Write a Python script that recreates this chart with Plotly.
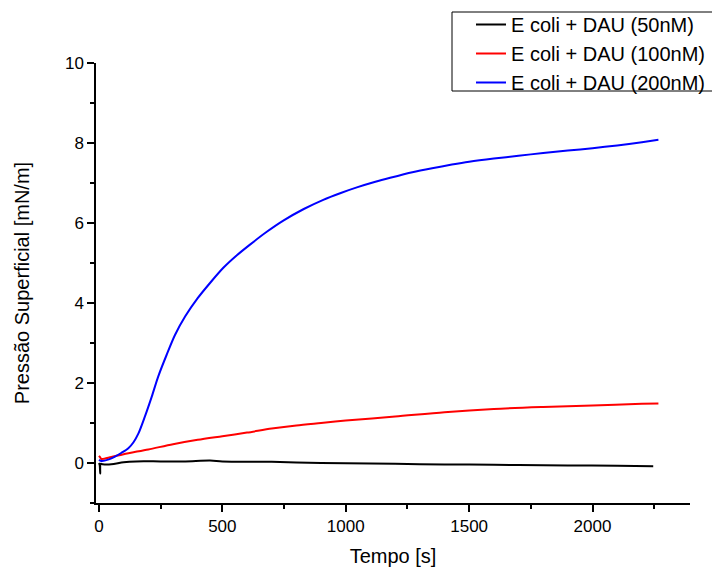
import plotly.graph_objects as go

# Data
t_black = [0, 3, 5, 7, 15, 50, 100, 150, 250, 350, 450, 500, 700, 900, 1100, 1300, 1500, 1700, 1900, 2100, 2246]
v_black = [0.0, -0.05, -0.26, -0.02, -0.03, -0.03, 0.02, 0.04, 0.04, 0.04, 0.06, 0.04, 0.03, 0.0, -0.01, -0.03, -0.04, -0.05, -0.06, -0.07, -0.08]

t_red = [0, 5, 10, 50, 100, 200, 300, 400, 500, 600, 700, 800, 900, 1000, 1200, 1400, 1600, 1800, 2000, 2200, 2267]
v_red = [0.18, 0.14, 0.10, 0.15, 0.22, 0.34, 0.47, 0.58, 0.67, 0.76, 0.86, 0.94, 1.00, 1.06, 1.16, 1.27, 1.35, 1.40, 1.44, 1.48, 1.49]

t_blue = [0, 11, 40, 65, 90, 119, 140, 160, 186, 214, 240, 274, 308, 349, 400, 450, 504, 560, 612, 680, 747, 830, 909, 980, 1045, 1120, 1180, 1270, 1350, 1430, 1500, 1600, 1700, 1800, 1900, 2000, 2100, 2200, 2267]
v_blue = [0.08, 0.05, 0.09, 0.16, 0.25, 0.37, 0.52, 0.74, 1.16, 1.66, 2.16, 2.70, 3.20, 3.66, 4.12, 4.50, 4.88, 5.20, 5.46, 5.78, 6.06, 6.35, 6.58, 6.75, 6.89, 7.03, 7.13, 7.27, 7.37, 7.46, 7.53, 7.61, 7.68, 7.75, 7.81, 7.87, 7.94, 8.02, 8.08]

names = ["E coli + DAU (50nM)", "E coli + DAU (100nM)", "E coli + DAU (200nM)"]
colors = ["#000000", "#ff0000", "#0000ff"]

FONT = "Arial, Liberation Sans, sans-serif"

fig = go.Figure()
for i, (t, v) in enumerate([(t_black, v_black), (t_red, v_red), (t_blue, v_blue)]):
    fig.add_trace(go.Scatter(x=t, y=v, mode="lines", name=names[i],
                             line=dict(color=colors[i], width=2, shape="spline", smoothing=0.8)))

# page body has an 8px margin, so the figure is 8px smaller than the window
W, H = 712, 561
L, R, T, B = 88, 30, 55, 66
pw, ph = W - L - R, H - T - B

def px(x):  # figure-pixel x -> paper
    return (x - L) / pw

def py(y):  # figure-pixel y -> paper
    return (H - B - y) / ph

fig.update_layout(
    width=W, height=H,
    margin=dict(l=L, r=R, t=T, b=B, autoexpand=False),
    paper_bgcolor="white", plot_bgcolor="white",
    font=dict(family=FONT, color="black", size=17),
    legend=dict(x=px(463), y=py(-3), xanchor="left", yanchor="top",
                bgcolor="rgba(0,0,0,0)", borderwidth=0,
                font=dict(size=20)),
    shapes=[dict(type="rect", xref="paper", yref="paper",
                 x0=px(444), x1=px(710), y0=py(83), y1=py(4),
                 line=dict(color="black", width=1), fillcolor="rgba(0,0,0,0)", layer="below")],
    xaxis=dict(range=[-12, 2395], showgrid=False, zeroline=False, automargin=False,
               showline=True, linecolor="black", linewidth=1.5,
               ticks="outside", ticklen=7, tickwidth=1.5, tickcolor="black",
               tick0=0, dtick=500,
               minor=dict(ticks="outside", ticklen=4, tickwidth=1.5, tickcolor="black", dtick=250, tick0=0),
               tickfont=dict(size=17),
               title=dict(text="Tempo [s]", font=dict(size=20), standoff=14)),
    yaxis=dict(range=[-1, 10], showgrid=False, zeroline=False, automargin=False,
               showline=True, linecolor="black", linewidth=1.5,
               ticks="outside", ticklen=7, tickwidth=1.5, tickcolor="black",
               tick0=0, dtick=2,
               minor=dict(ticks="outside", ticklen=4, tickwidth=1.5, tickcolor="black", dtick=1, tick0=0),
               tickfont=dict(size=17),
               title=dict(text="Pressão Superficial [mN/m]", font=dict(size=20), standoff=30)),
)

fig.write_html("out.html")
